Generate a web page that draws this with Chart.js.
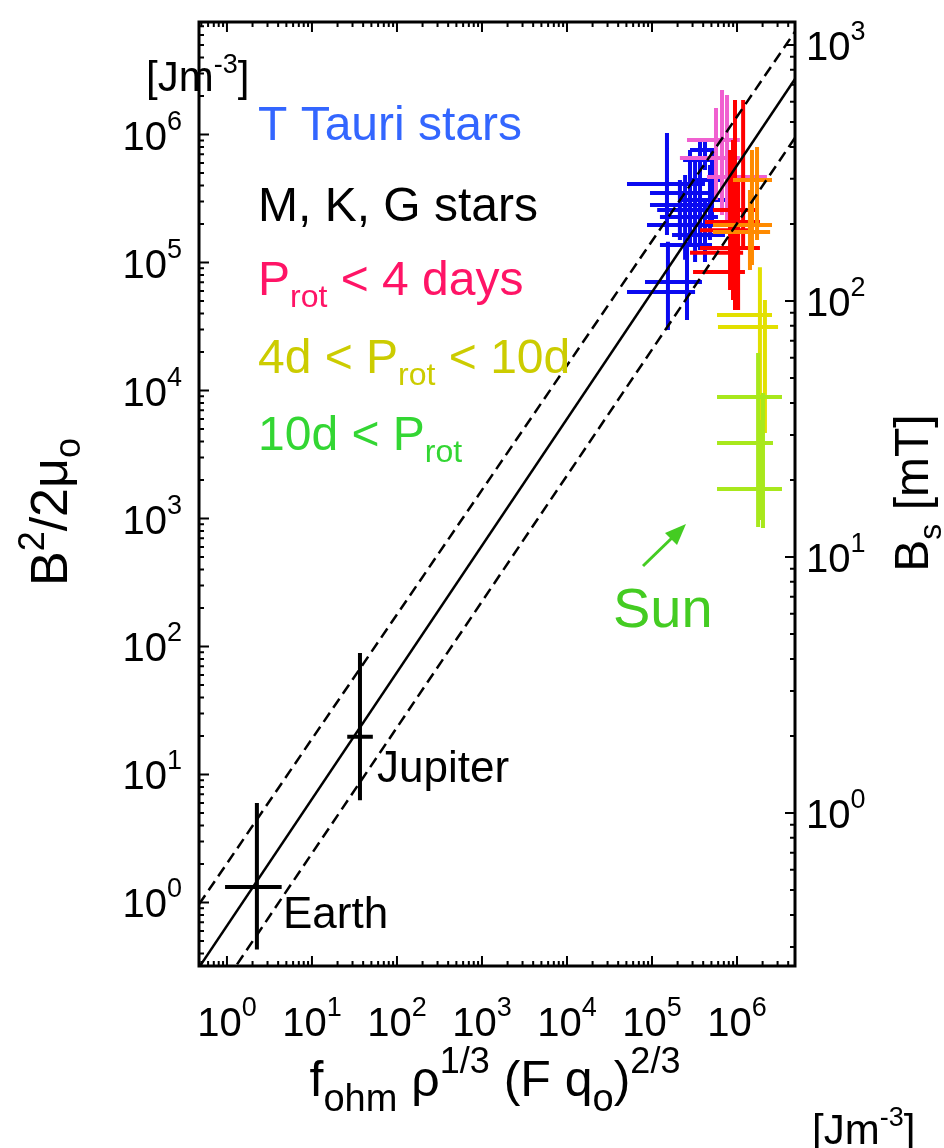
<!DOCTYPE html>
<html>
<head>
<meta charset="utf-8">
<script src="https://cdn.jsdelivr.net/npm/chart.js@4.4.0/dist/chart.umd.min.js"></script>
<style>
  html, body { margin: 0; padding: 0; background: #fff; }
  canvas { display: block; }
</style>
</head>
<body>
<canvas id="chart" width="944" height="1148"></canvas>
<script>
// axis ranges
const xRange = [0.469, 4.81e6]
const yRange = [0.319, 7.57e6]
const bsRange = [0.2526, 1230]          // right axis, B_s in mT

// tick decades and their exponent labels
const xTicks = [1, 10, 100, 1e3, 1e4, 1e5, 1e6]
const xTickExp = ['0', '1', '2', '3', '4', '5', '6']
const yTicks = [1, 10, 100, 1e3, 1e4, 1e5, 1e6]
const yTickExp = ['0', '1', '2', '3', '4', '5', '6']
const bsTicks = [1, 10, 100, 1000]
const bsTickExp = ['0', '1', '2', '3']

// scaling law lines y = c * x^p : solid, upper dashed, lower dashed
const fitCoefs = [0.658, 2.02, 0.251]
const fitSlopes = [0.99, 0.9725, 0.984]

// each cross: [x, y, xLow, xHigh, yLow, yHigh]
const earth = [2.25, 1.32, 0.95, 4.4, 0.43, 6.0]
const jupiter = [36.7, 19.7, 26, 52, 6.3, 89]

const tTauri = [
  [1.50e5, 4.10e5, 5.08e4, 4.20e5, 1.64e5, 1.03e6],
  [1.54e5, 5.89e4, 5.08e4, 3.21e5, 2.97e4, 1.45e5],
  [2.58e5, 7.04e4, 8.27e4, 3.87e5, 3.56e4, 1.45e5],
  [2.80e5, 3.49e5, 9.47e4, 5.51e5, 1.37e5, 7.57e5],
  [3.67e5, 2.57e5, 1.15e5, 6.84e5, 1.25e5, 8.28e5],
  [3.21e5, 2.27e5, 1.24e5, 5.97e5, 1.15e5, 6.32e5],
  [2.45e5, 1.96e5, 8.74e4, 5.82e5, 1.05e5, 4.83e5],
  [3.67e5, 6.32e5, 2.32e5, 5.08e5, 4.03e5, 9.06e5],
  [4.20e5, 7.57e5, 2.80e5, 5.97e5, 5.28e5, 9.40e5],
  [4.81e5, 3.08e5, 2.13e5, 7.22e5, 1.50e5, 5.78e5],
  [4.20e5, 1.64e5, 1.72e5, 7.22e5, 1.01e5, 3.08e5],
  [3.21e5, 1.37e5, 1.24e5, 5.08e5, 1.01e5, 2.35e5],
  [2.13e5, 2.81e5, 9.47e4, 4.56e5, 1.50e5, 4.41e5],
  [5.08e5, 4.41e5, 2.80e5, 6.66e5, 1.96e5, 7.57e5]
]
const fastPink = [
  [6.66e5, 9.06e5, 2.58e5, 1.08e6, 2.35e5, 2.23e6],
  [5.66e5, 6.55e5, 2.13e5, 1.08e6, 3.08e5, 1.61e6],
  [7.63e5, 4.66e5, 4.44e5, 2.25e6, 2.15e5, 2.04e6]
]
const fastRed = [
  [9.47e5, 2.57e5, 5.22e5, 1.72e6, 4.26e4, 1.86e6],
  [1.18e6, 2.07e5, 4.20e5, 1.86e6, 1.25e5, 1.86e6],
  [8.97e5, 1.19e5, 2.80e5, 1.18e6, 5.09e4, 9.06e5],
  [1.03e6, 8.43e4, 3.04e5, 1.24e6, 4.26e4, 3.08e5],
  [1.03e6, 1.30e5, 3.67e5, 1.86e6, 6.10e4, 4.41e5],
  [8.28e5, 1.79e5, 3.67e5, 1.50e6, 6.10e4, 7.57e5]
]
const midOrange = [
  [1.72e6, 4.41e5, 8.97e5, 2.58e6, 1.50e5, 7.98e5],
  [1.50e6, 1.96e5, 5.22e5, 2.58e6, 9.55e4, 7.57e5],
  [1.42e6, 1.73e5, 5.22e5, 2.45e6, 8.73e4, 3.68e5]
]
const midYellow = [
  [1.86e6, 3.89e4, 5.82e5, 2.58e6, 4.66e3, 9.20e4],
  [2.13e6, 3.14e4, 5.97e5, 3.04e6, 4.66e3, 5.09e4]
]
const slowLime = [
  [1.77e6, 8.89e3, 5.82e5, 3.38e6, 859, 1.96e4],
  [2.02e6, 3.89e3, 5.82e5, 2.65e6, 843, 9.55e3],
  [1.86e6, 1.70e3, 5.82e5, 3.38e6, 973, 5.89e3]
]

const FONT = '"Liberation Sans", Arial, Helvetica, sans-serif'

// turn crosses into line segments separated by gaps
function crossPoints(list) {
  const pts = []
  list.forEach(([x, y, x0, x1, y0, y1]) => {
    pts.push({ x: x0, y: y }, { x: x1, y: y }, { x: x1, y: null })
    pts.push({ x: x, y: y0 }, { x: x, y: y1 }, { x: x, y: null })
  })
  return pts
}

function crossSet(list, color, width) {
  return {
    data: crossPoints(list),
    showLine: true,
    spanGaps: false,
    borderColor: color,
    borderWidth: width,
    pointRadius: 0,
    borderCapStyle: 'butt'
  }
}

function fitLine(i, dash) {
  const f = x => fitCoefs[i] * Math.pow(x, fitSlopes[i])
  return {
    data: [{ x: xRange[0], y: f(xRange[0]) }, { x: xRange[1], y: f(xRange[1]) }],
    showLine: true,
    borderColor: '#000',
    borderWidth: 2.5,
    borderDash: dash,
    pointRadius: 0
  }
}

// draw a run of text pieces: [text, size, dy]
function rich(ctx, parts, x, y, align) {
  let total = 0
  parts.forEach(p => { ctx.font = p[1] + 'px ' + FONT; total += ctx.measureText(p[0]).width })
  let cx = align === 'center' ? x - total / 2 : align === 'right' ? x - total : x
  ctx.textAlign = 'left'
  ctx.textBaseline = 'alphabetic'
  parts.forEach(p => {
    ctx.font = p[1] + 'px ' + FONT
    ctx.fillText(p[0], cx, y + p[2])
    cx += ctx.measureText(p[0]).width
  })
}

function minorTicks(range) {
  const out = []
  for (let e = Math.floor(Math.log10(range[0])); e <= Math.ceil(Math.log10(range[1])); e++) {
    for (let m = 1; m <= 9; m++) {
      const v = m * Math.pow(10, e)
      if (v >= range[0] && v <= range[1]) out.push({ v, major: m === 1 })
    }
  }
  return out
}

const framePlugin = {
  id: 'frame',
  afterDraw(chart) {
    const ctx = chart.ctx
    const a = chart.chartArea
    const sx = chart.scales.x, sy = chart.scales.y, sb = chart.scales.y2
    ctx.save()
    ctx.strokeStyle = '#000'
    ctx.fillStyle = '#000'

    // inward ticks
    ctx.lineWidth = 2
    ctx.beginPath()
    minorTicks(xRange).forEach(t => {
      const px = sx.getPixelForValue(t.v), len = t.major ? 10 : 5
      ctx.moveTo(px, a.bottom); ctx.lineTo(px, a.bottom - len)
      ctx.moveTo(px, a.top); ctx.lineTo(px, a.top + len)
    })
    minorTicks(yRange).forEach(t => {
      const py = sy.getPixelForValue(t.v), len = t.major ? 10 : 5
      ctx.moveTo(a.left, py); ctx.lineTo(a.left + len, py)
    })
    minorTicks(bsRange).forEach(t => {
      const py = sb.getPixelForValue(t.v), len = t.major ? 10 : 5
      ctx.moveTo(a.right, py); ctx.lineTo(a.right - len, py)
    })
    ctx.stroke()

    ctx.lineWidth = 3
    ctx.strokeRect(a.left, a.top, a.right - a.left, a.bottom - a.top)

    // tick labels
    xTicks.forEach((v, i) => {
      rich(ctx, [['10', 40, 0], [xTickExp[i], 27, -20]], sx.getPixelForValue(v), 1036, 'center')
    })
    yTicks.forEach((v, i) => {
      rich(ctx, [['10', 40, 0], [yTickExp[i], 27, -20]], 182, sy.getPixelForValue(v) + 15, 'right')
    })
    bsTicks.forEach((v, i) => {
      rich(ctx, [['10', 40, 0], [bsTickExp[i], 27, -20]], 806, sb.getPixelForValue(v) + 15, 'left')
    })

    // units
    rich(ctx, [['[Jm', 42, 0], ['-3', 27, -18], [']', 42, 0]], 146, 91, 'left')
    rich(ctx, [['[Jm', 42, 0], ['-3', 27, -18], [']', 42, 0]], 812, 1144, 'left')

    // axis titles
    rich(ctx, [['f', 50, 0], ['ohm', 38, 15], [' \u03c1', 50, 0], ['1/3', 36, -23],
      [' (F q', 50, 0], ['o', 38, 15], [')', 50, 0], ['2/3', 36, -23]], 495, 1096, 'center')

    ctx.save()
    ctx.translate(50, 512)
    ctx.rotate(-Math.PI / 2)
    rich(ctx, [['B', 52, 0], ['2', 36, -23], ['/2\u03bc', 52, 0], ['o', 36, 13]], 0, 17, 'center')
    ctx.restore()

    ctx.save()
    ctx.translate(911, 493)
    ctx.rotate(-Math.PI / 2)
    rich(ctx, [['B', 48, 0], ['s', 32, 13], [' [mT]', 48, 0]], 0, 17, 'center')
    ctx.restore()

    // legend text
    ctx.fillStyle = '#3366ff'
    rich(ctx, [['T Tauri stars', 48, 0]], 258, 140, 'left')
    ctx.fillStyle = '#000'
    rich(ctx, [['M, K, G stars', 48, 0]], 258, 221, 'left')
    ctx.fillStyle = '#ff1466'
    rich(ctx, [['P', 48, 0], ['rot', 32, 12], [' < 4 days', 48, 0]], 258, 295, 'left')
    ctx.fillStyle = '#cccc00'
    rich(ctx, [['4d < P', 48, 0], ['rot', 32, 12], [' < 10d', 48, 0]], 258, 373, 'left')
    ctx.fillStyle = '#33d633'
    rich(ctx, [['10d < P', 48, 0], ['rot', 32, 12]], 258, 450, 'left')

    // planet labels
    ctx.fillStyle = '#000'
    rich(ctx, [['Earth', 44, 0]], 283, 928, 'left')
    rich(ctx, [['Jupiter', 44, 0]], 377, 782, 'left')

    // Sun label and arrow
    ctx.fillStyle = '#44cc22'
    ctx.strokeStyle = '#44cc22'
    rich(ctx, [['Sun', 56, 0]], 613, 627, 'left')
    ctx.lineWidth = 3
    ctx.beginPath()
    ctx.moveTo(643, 566); ctx.lineTo(676, 534)
    ctx.stroke()
    ctx.beginPath()
    ctx.moveTo(686, 524); ctx.lineTo(665, 533); ctx.lineTo(677, 545)
    ctx.closePath()
    ctx.fill()

    ctx.restore()
  }
}

new Chart(document.getElementById('chart').getContext('2d'), {
  type: 'scatter',
  data: {
    datasets: [
      fitLine(0, []),
      fitLine(1, [11, 6]),
      fitLine(2, [11, 6]),
      crossSet([earth, jupiter], '#000', 4),
      crossSet(slowLime, '#a8e81c', 4),
      crossSet(midYellow, '#e2e000', 4),
      crossSet(midOrange, '#ff8a00', 4),
      crossSet(fastRed, '#ff0000', 4),
      crossSet(fastPink, '#f060d0', 4),
      crossSet(tTauri, '#0a0af0', 4)
    ]
  },
  options: {
    responsive: false,
    animation: false,
    events: [],
    layout: { padding: { left: 199, right: 149, top: 22, bottom: 182 } },
    plugins: { legend: { display: false }, tooltip: { enabled: false } },
    scales: {
      x: { type: 'logarithmic', min: xRange[0], max: xRange[1], bounds: 'data', display: false },
      y: { type: 'logarithmic', min: yRange[0], max: yRange[1], bounds: 'data', display: false },
      y2: { type: 'logarithmic', position: 'right', min: bsRange[0], max: bsRange[1], bounds: 'data', display: false }
    }
  },
  plugins: [framePlugin]
})
</script>
</body>
</html>
